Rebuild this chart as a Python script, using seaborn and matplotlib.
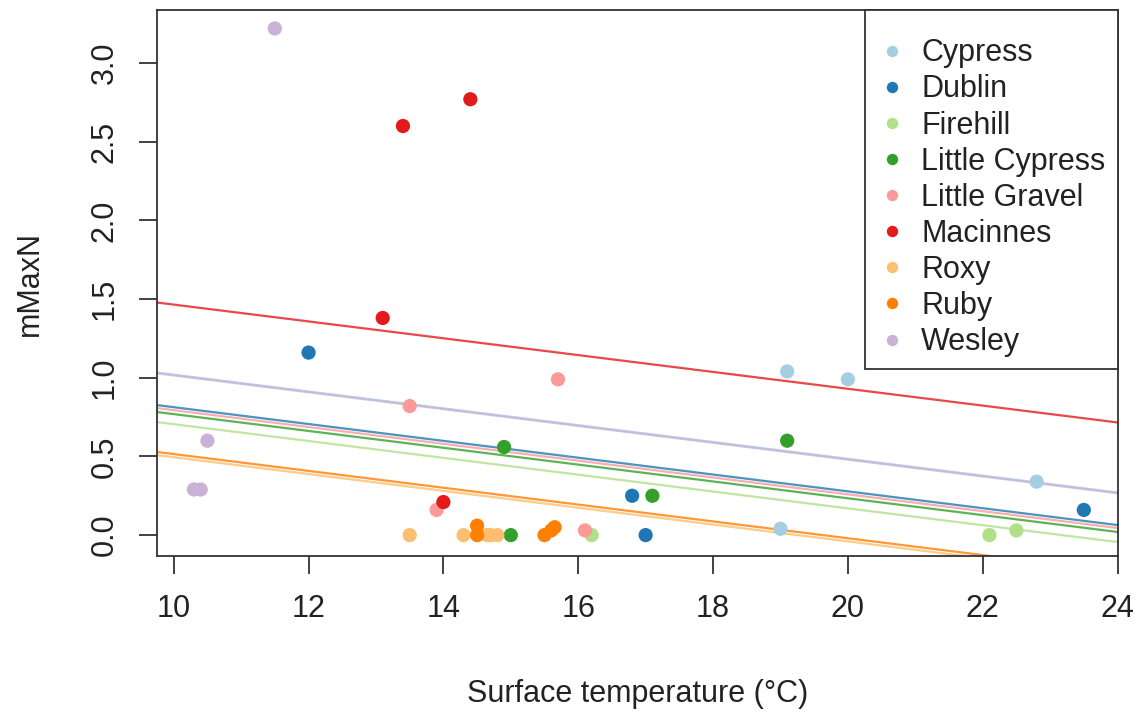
import matplotlib
matplotlib.use("Agg")
import matplotlib.pyplot as plt
import seaborn as sns
import pandas as pd

sites = ["Cypress", "Dublin", "Firehill", "Little Cypress", "Little Gravel",
         "Macinnes", "Roxy", "Ruby", "Wesley"]

temp = {
    "Cypress": [19.1, 20.0, 22.8, 19.0],
    "Dublin": [12.0, 16.8, 17.0, 23.5],
    "Firehill": [16.2, 22.1, 22.5],
    "Little Cypress": [14.9, 19.1, 17.1, 15.0],
    "Little Gravel": [13.5, 15.7, 13.9, 16.1],
    "Macinnes": [14.4, 13.4, 13.1, 14.0],
    "Roxy": [13.5, 14.3, 14.65, 14.7, 14.8],
    "Ruby": [14.5, 14.5, 15.5, 15.6, 15.65],
    "Wesley": [11.5, 10.5, 10.3, 10.4],
}
mmaxn = {
    "Cypress": [1.04, 0.99, 0.34, 0.04],
    "Dublin": [1.16, 0.25, 0.0, 0.16],
    "Firehill": [0.0, 0.0, 0.03],
    "Little Cypress": [0.56, 0.60, 0.25, 0.0],
    "Little Gravel": [0.82, 0.99, 0.16, 0.03],
    "Macinnes": [2.77, 2.60, 1.38, 0.21],
    "Roxy": [0.0, 0.0, 0.0, 0.0, 0.0],
    "Ruby": [0.0, 0.06, 0.0, 0.03, 0.05],
    "Wesley": [3.22, 0.60, 0.29, 0.29],
}

# fitted model: common slope, one intercept per site
slope = -0.0535
intercepts = {
    "Cypress": 1.555, "Dublin": 1.348, "Firehill": 1.240,
    "Little Cypress": 1.304, "Little Gravel": 1.329, "Macinnes": 2.000,
    "Roxy": 1.030, "Ruby": 1.050, "Wesley": 1.550,
}

x_ticks = [10, 12, 14, 16, 18, 20, 22, 24]
y_ticks = [0.0, 0.5, 1.0, 1.5, 2.0, 2.5, 3.0]

rows = [(s, x, y) for s in sites for x, y in zip(temp[s], mmaxn[s])]
df = pd.DataFrame(rows, columns=["site", "temp", "mmaxn"])

sns.set_style("white")
plt.rcParams["font.family"] = ["Liberation Sans", "DejaVu Sans"]
txt = "#222222"

palette = dict(zip(sites, sns.color_palette("Paired", len(sites))))

fig = plt.figure(figsize=(11.45, 7.17), dpi=100)
ax = fig.add_axes([0.137, 0.2245, 0.839, 0.7615])

for s in sites:
    ax.axline((0, intercepts[s]), slope=slope, color=palette[s],
              lw=1.6, alpha=0.8, zorder=1)

sns.scatterplot(data=df, x="temp", y="mmaxn", hue="site", hue_order=sites,
                palette=palette, s=105, linewidth=0, ax=ax, zorder=3,
                legend=True)

ax.set_xlim(9.75, 24.0)
ax.set_ylim(-0.133, 3.337)
ax.set_xticks(x_ticks)
ax.set_xticklabels([str(t) for t in x_ticks])
ax.set_yticks(y_ticks)
ax.set_yticklabels([f"{t:.1f}" for t in y_ticks], rotation=90, va="center")
ax.tick_params(axis="both", direction="out", length=13, width=1.3,
               color="#333333", labelsize=22, labelcolor=txt, pad=14,
               bottom=True, left=True)
for sp in ax.spines.values():
    sp.set_color("#333333")
    sp.set_linewidth(1.3)

ax.set_xlabel("Surface temperature (°C)", fontsize=22, color=txt, labelpad=40)
ax.set_ylabel("mMaxN", fontsize=22, color=txt, labelpad=32)

leg = ax.legend(loc="upper right", borderaxespad=0, fontsize=22,
                frameon=True, fancybox=False, handletextpad=0.44,
                labelspacing=0.2, markerscale=0.8, borderpad=0.4,
                handlelength=1.0, labelcolor=txt,
                title=" ", title_fontsize=7)
leg.get_frame().set_edgecolor("#333333")
leg.get_frame().set_linewidth(1.3)
leg.get_frame().set_alpha(1)

fig.savefig("out.png", dpi=100, facecolor="white")
